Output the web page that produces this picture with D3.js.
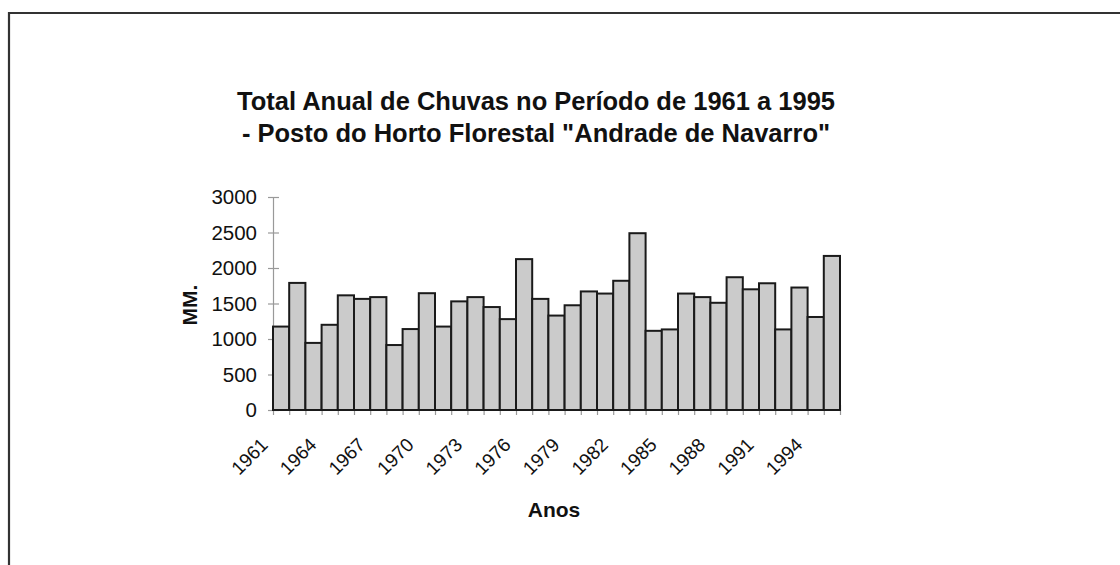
<!DOCTYPE html>
<html>
<head>
<meta charset="utf-8">
<script src="https://cdn.jsdelivr.net/npm/d3@7"></script>
<style>
  body { margin: 0; background: #fff; }
  svg { display: block; font-family: "Liberation Sans", Arial, sans-serif; }
  .tickLbl { font-size: 20.5px; fill: #111; }
  .xLbl { font-size: 19px; fill: #111; }
  .axisLbl { font-size: 21px; font-weight: bold; fill: #111; }
  .pltTitle { font-size: 25.5px; font-weight: bold; fill: #111; }
</style>
</head>
<body>
<div id="chart"></div>
<script>
let years = d3.range(1961, 1996);
let rainfall = [1175, 1790, 945, 1200, 1615, 1565, 1590, 915, 1140, 1645,
                1175, 1530, 1590, 1450, 1280, 2125, 1565, 1330, 1475, 1670,
                1640, 1820, 2490, 1115, 1135, 1640, 1590, 1510, 1870, 1700,
                1785, 1135, 1725, 1310, 2170];
let yTicks = [0, 500, 1000, 1500, 2000, 2500, 3000];
let xLabelYears = [1961, 1964, 1967, 1970, 1973, 1976, 1979, 1982, 1985, 1988, 1991, 1994];
let titleLines = ["Total Anual de Chuvas no Período de 1961 a 1995",
                  "- Posto do Horto Florestal \"Andrade de Navarro\""];

let width = 1120, height = 565;
let plotLeft = 273, plotRight = 840, plotTop = 197, plotBottom = 410;

let svg = d3.select("#chart")
            .append("svg")
              .attr("width", width)
              .attr("height", height);

// outer frame (only top and left edges are inside the picture)
svg.append("path")
   .attr("d", "M9,565 V13 H1120")
   .attr("fill", "none")
   .attr("stroke", "#333")
   .attr("stroke-width", 2.2);

let xScale = d3.scaleBand()
               .domain(years)
               .range([plotLeft, plotRight])
               .padding(0);
let xEdges = d3.scaleLinear()
               .domain([0, years.length])
               .range([plotLeft, plotRight]);
let yScale = d3.scaleLinear()
               .domain([0, 3000])
               .range([plotBottom, plotTop]);

// Y axis
let yAxisG = svg.append("g")
   .attr("transform", "translate(" + plotLeft + ",0)")
   .call(d3.axisLeft(yScale).tickValues(yTicks).tickFormat(d3.format("d"))
           .tickSizeInner(5).tickSizeOuter(0).tickPadding(11));
yAxisG.select(".domain").attr("stroke", "#999").attr("stroke-width", 1.2);
yAxisG.selectAll(".tick line").attr("x1", 6).attr("stroke", "#999").attr("stroke-width", 1.2);
yAxisG.selectAll(".tick text").attr("class", "tickLbl").attr("font-size", null).attr("font-family", null);

// X axis (ticks between bars)
let xAxisG = svg.append("g")
   .attr("transform", "translate(0," + plotBottom + ")")
   .call(d3.axisBottom(xEdges).tickValues(d3.range(years.length + 1)).tickFormat("").tickSizeInner(5).tickSizeOuter(0));
xAxisG.select(".domain").attr("stroke", "#999").attr("stroke-width", 1.2);
xAxisG.selectAll(".tick line").attr("y1", -5).attr("stroke", "#999").attr("stroke-width", 1.2);

// bars
svg.append("g")
   .selectAll("rect")
   .data(rainfall)
   .enter()
   .append("rect")
     .attr("x", (d, i) => xScale(years[i]))
     .attr("y", d => yScale(d))
     .attr("width", xScale.bandwidth())
     .attr("height", d => yScale(0) - yScale(d))
     .attr("fill", "#cbcbcb")
     .attr("stroke", "#1a1a1a")
     .attr("stroke-width", 2);

// rotated year labels
svg.append("g")
   .selectAll("text")
   .data(xLabelYears)
   .enter()
   .append("text")
     .attr("class", "xLbl")
     .attr("text-anchor", "end")
     .attr("transform", d => "translate(" + (xScale(d) + xScale.bandwidth() / 2 - 12) + "," + (plotBottom + 36) + ") rotate(-45)")
     .text(d => d);

// axis titles
svg.append("text")
   .attr("class", "axisLbl")
   .attr("text-anchor", "middle")
   .attr("transform", "translate(197,305) rotate(-90)")
   .text("MM.");

svg.append("text")
   .attr("class", "axisLbl")
   .attr("text-anchor", "middle")
   .attr("x", 554)
   .attr("y", 517)
   .text("Anos");

// title
svg.append("g")
   .selectAll("text")
   .data(titleLines)
   .enter()
   .append("text")
     .attr("class", "pltTitle")
     .attr("text-anchor", "middle")
     .attr("x", 536)
     .attr("y", (d, i) => 110 + i * 32)
     .text(d => d);
</script>
</body>
</html>
